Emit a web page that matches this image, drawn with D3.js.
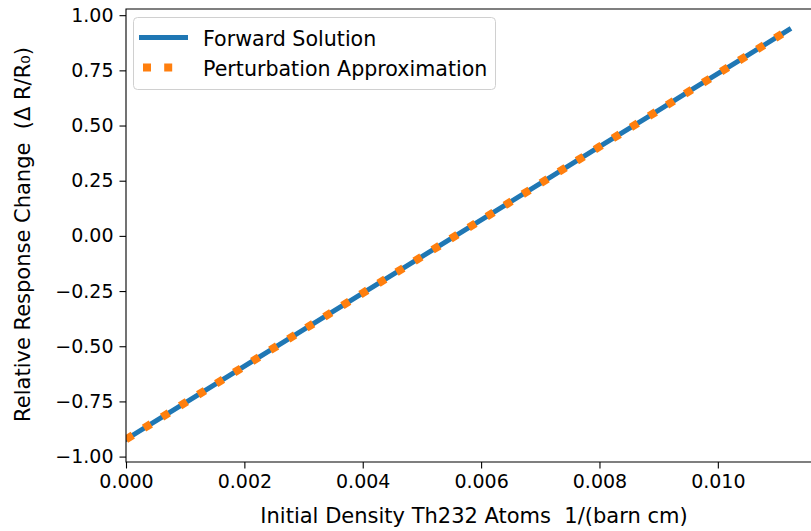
<!DOCTYPE html>
<html>
<head>
<meta charset="utf-8">
<script src="https://cdn.jsdelivr.net/npm/d3@7/dist/d3.min.js"></script>
<style>
  html, body { margin: 0; padding: 0; background: #fff; overflow: hidden; }
  svg { display: block; font-family: "DejaVu Sans", sans-serif; }
  text { white-space: pre; }
</style>
</head>
<body>
<svg id="chart" width="811" height="531"></svg>
<script>
// Initial Th232 density (1/(barn cm))
const density = [0, 0.0008, 0.0016, 0.0024, 0.0032, 0.0040, 0.0048, 0.0056,
                 0.0064, 0.0072, 0.0080, 0.0088, 0.0096, 0.0104, 0.0112];
// Relative response change from the full forward calculation
const forwardSolution = [-0.922, -0.789, -0.657, -0.524, -0.392, -0.259, -0.127, 0.006,
                         0.138, 0.271, 0.404, 0.536, 0.669, 0.801, 0.934];
// Relative response change predicted by first-order perturbation theory
const perturbationApprox = [-0.922, -0.789, -0.657, -0.524, -0.392, -0.259, -0.127, 0.006,
                            0.138, 0.271, 0.404, 0.536, 0.669, 0.801, 0.934];

const xTicks = [0, 0.002, 0.004, 0.006, 0.008, 0.010];
const yTicks = [-1.00, -0.75, -0.50, -0.25, 0.00, 0.25, 0.50, 0.75, 1.00];
const seriesNames = ["Forward Solution", "Perturbation Approximation"];

const colors = { forward: "#1f77b4", perturb: "#ff7f0e" };
const plot = { left: 126, right: 822, top: 9, bottom: 462 };
const tickFont = 19;
const labelFont = 21;

const svg = d3.select("#chart");

const x = d3.scaleLinear().domain([0, 0.01176]).range([plot.left, plot.right]);
const y = d3.scaleLinear().domain([-1.0245, 1.028]).range([plot.bottom, plot.top]);

svg.append("defs").append("clipPath").attr("id", "plot-clip")
  .append("rect")
  .attr("x", plot.left).attr("y", plot.top)
  .attr("width", plot.right - plot.left).attr("height", plot.bottom - plot.top);

const line = d3.line().x((d, i) => x(density[i])).y(d => y(d));

const lines = svg.append("g").attr("clip-path", "url(#plot-clip)");
lines.append("path")
  .datum(forwardSolution)
  .attr("d", line)
  .attr("fill", "none")
  .attr("stroke", colors.forward)
  .attr("stroke-width", 5)
  .attr("stroke-linecap", "square");
lines.append("path")
  .datum(perturbationApprox)
  .attr("d", line)
  .attr("fill", "none")
  .attr("stroke", colors.perturb)
  .attr("stroke-width", 8)
  .attr("stroke-dasharray", "8,13.2")
  .attr("stroke-linecap", "butt");

// Axes
const fmtX = d3.format(".3f");
const fmtY = v => d3.format(".2f")(v).replace("-", "\u2212");

const xAxis = svg.append("g")
  .attr("transform", `translate(0,${plot.bottom})`)
  .call(d3.axisBottom(x).tickValues(xTicks).tickFormat(fmtX).tickSize(6.5).tickPadding(6).tickSizeOuter(0));
const yAxis = svg.append("g")
  .attr("transform", `translate(${plot.left},0)`)
  .call(d3.axisLeft(y).tickValues(yTicks).tickFormat(fmtY).tickSize(6.5).tickPadding(6).tickSizeOuter(0));

[xAxis, yAxis].forEach(g => {
  g.select(".domain").remove();
  g.selectAll(".tick line").attr("stroke", "#000").attr("stroke-width", 1.1);
  g.selectAll(".tick text")
    .attr("fill", "#000")
    .style("font-family", "'DejaVu Sans', sans-serif")
    .style("font-size", tickFont + "px");
});

// Spines (right spine sits beyond the visible canvas)
svg.append("path")
  .attr("d", `M${plot.right},${plot.top}H${plot.left}V${plot.bottom}H${plot.right}`)
  .attr("fill", "none")
  .attr("stroke", "#000")
  .attr("stroke-width", 1.1);

// Axis titles
svg.append("text")
  .attr("x", (plot.left + plot.right) / 2)
  .attr("y", 523)
  .attr("text-anchor", "middle")
  .style("font-size", labelFont + "px")
  .attr("fill", "#000")
  .text("Initial Density Th232 Atoms  1/(barn cm)");

svg.append("text")
  .attr("transform", `translate(30,${(plot.top + plot.bottom) / 2 - 1}) rotate(-90)`)
  .attr("text-anchor", "middle")
  .style("font-size", labelFont + "px")
  .attr("fill", "#000")
  .text("Relative Response Change  (\u0394 R/R\u2080)");

// Legend
const legend = svg.append("g");
legend.append("rect")
  .attr("x", 133.5).attr("y", 17.5)
  .attr("width", 362).attr("height", 72)
  .attr("rx", 4).attr("ry", 4)
  .attr("fill", "#fff").attr("fill-opacity", 0.8)
  .attr("stroke", "#d0d0d0").attr("stroke-width", 1);

legend.append("line")
  .attr("x1", 139).attr("x2", 188).attr("y1", 37.5).attr("y2", 37.5)
  .attr("stroke", colors.forward).attr("stroke-width", 5);
legend.append("line")
  .attr("x1", 143).attr("x2", 180).attr("y1", 67.5).attr("y2", 67.5)
  .attr("stroke", colors.perturb).attr("stroke-width", 8)
  .attr("stroke-dasharray", "8,13.2");

legend.selectAll("text.entry")
  .data(seriesNames)
  .join("text")
  .attr("class", "entry")
  .attr("x", 203)
  .attr("y", (d, i) => 45.5 + i * 30)
  .style("font-size", "20.6px")
  .attr("fill", "#000")
  .text(d => d);
</script>
</body>
</html>
